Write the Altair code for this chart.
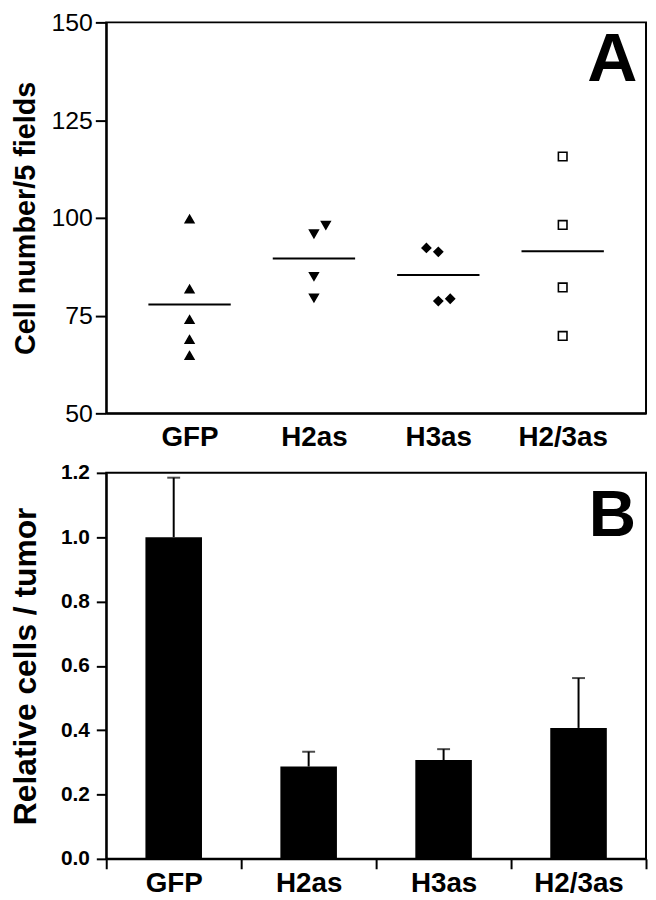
import altair as alt
import pandas as pd

FONT = "Liberation Sans"

groups = ["GFP", "H2as", "H3as", "H2/3as"]

# Panel A: individual cell counts per tumour (cell number / 5 fields)
gfp_vals = [99.7, 81.8, 74.0, 68.9, 64.8]
gfp_side = [0, 0, 0, 0, 0]
h2_vals = [98.1, 95.9, 85.0, 79.5]
h2_side = [1, 0, 0, 0]
h3_vals = [92.3, 91.3, 78.7, 79.3]
h3_side = [-1, 0, 0, 1]
h23_vals = [115.7, 98.2, 82.2, 69.8]
h23_side = [0, 0, 0, 0]

# Panel B: relative cells / tumour, mean and error
rel_mean = [1.0, 0.287, 0.307, 0.407]
rel_err = [0.185, 0.046, 0.034, 0.155]

rows = []
for g, vals, sides in zip(groups, [gfp_vals, h2_vals, h3_vals, h23_vals],
                          [gfp_side, h2_side, h3_side, h23_side]):
    for v, s in zip(vals, sides):
        rows.append({"group": g, "value": v, "side": s})
dfA = pd.DataFrame(rows)
dfB = pd.DataFrame({"group": groups, "mean": rel_mean, "err": rel_err})

xA = alt.X("group:N", sort=groups,
           scale=alt.Scale(type="point", domain=groups, padding=0.67),
           axis=alt.Axis(title=None, labelAngle=0, ticks=False, tickSize=0,
                         labelPadding=10, labelFontSize=28, labelFontWeight="bold",
                         domainWidth=2))
yA_scale = alt.Scale(domain=[50, 150], nice=False, zero=False)
yA_axis = alt.Axis(values=[50, 75, 100, 125, 150], tickSize=11, tickWidth=2,
                   labelFontSize=25, labelPadding=3, grid=False, domainWidth=2,
                   title="Cell number/5 fields", titleFontSize=29,
                   titleFontWeight="bold", titlePadding=11)

points = alt.Chart(dfA).mark_point(size=75, stroke="black", strokeWidth=1.6, opacity=1).encode(
    x=xA,
    xOffset=alt.XOffset("side:Q", scale=alt.Scale(domain=[-1, 1], range=[-12, 12])),
    y=alt.Y("value:Q", scale=yA_scale, axis=yA_axis),
    shape=alt.Shape("group:N", scale=alt.Scale(domain=groups,
                    range=["triangle-up", "triangle-down", "diamond", "square"]), legend=None),
    fill=alt.Fill("group:N", scale=alt.Scale(domain=groups,
                  range=["black", "black", "black", "white"]), legend=None),
)
means = alt.Chart(dfA).mark_tick(color="black", thickness=2, size=83).encode(
    x=xA,
    y=alt.Y("mean(value):Q", scale=yA_scale, axis=yA_axis),
)
letterA = alt.Chart(pd.DataFrame({"t": ["A"]})).mark_text(
    font=FONT, fontSize=70, fontWeight="bold", align="center", baseline="alphabetic",
    color="black").encode(text="t:N", x=alt.value(510), y=alt.value(59))

panelA = alt.layer(points, means, letterA).properties(width=544, height=394)

xB = alt.X("group:N", sort=groups,
           scale=alt.Scale(type="band", domain=groups, paddingInner=0, paddingOuter=0),
           axis=alt.Axis(title=None, labelAngle=0, tickBand="extent", tickSize=10,
                         tickWidth=2, labelPadding=1, labelFontSize=28,
                         labelFontWeight="bold", domainWidth=2))
yB_scale = alt.Scale(domain=[0, 1.2], nice=False)
yB_axis = alt.Axis(values=[0, 0.2, 0.4, 0.6, 0.8, 1.0, 1.2], format=".1f",
                   tickSize=10, tickWidth=2, labelFontSize=21, labelFontWeight="bold",
                   labelPadding=7, grid=False, domainWidth=2,
                   title="Relative cells / tumor", titleFontSize=32,
                   titleFontWeight="bold", titlePadding=18)

baseB = alt.Chart(dfB).transform_calculate(upper="datum.mean + datum.err")
bars = baseB.mark_bar(color="black", size=57).encode(
    x=xB, y=alt.Y("mean:Q", scale=yB_scale, axis=yB_axis))
errs = baseB.mark_rule(color="black", strokeWidth=2).encode(
    x=xB, y=alt.Y("mean:Q", scale=yB_scale, axis=yB_axis), y2="upper:Q")
caps = baseB.mark_tick(color="black", thickness=2, size=13).encode(
    x=xB, y=alt.Y("upper:Q", scale=yB_scale, axis=yB_axis))
letterB = alt.Chart(pd.DataFrame({"t": ["B"]})).mark_text(
    font=FONT, fontSize=66, fontWeight="bold", align="center", baseline="alphabetic",
    color="black").encode(text="t:N", x=alt.value(510), y=alt.value(64))

panelB = alt.layer(bars, errs, caps, letterB).properties(width=544, height=389)

chart = alt.vconcat(panelA, panelB, spacing=9).properties(
    padding={"left": 0, "top": -2, "right": 0, "bottom": 0},
    background="white",
).configure(font=FONT).configure_view(
    stroke="black", strokeWidth=2
).configure_axis(
    labelColor="black", titleColor="black", domainColor="black", tickColor="black",
    labelFont=FONT, titleFont=FONT,
)

chart.save("out.html", embed_options={"renderer": "svg", "actions": False})
